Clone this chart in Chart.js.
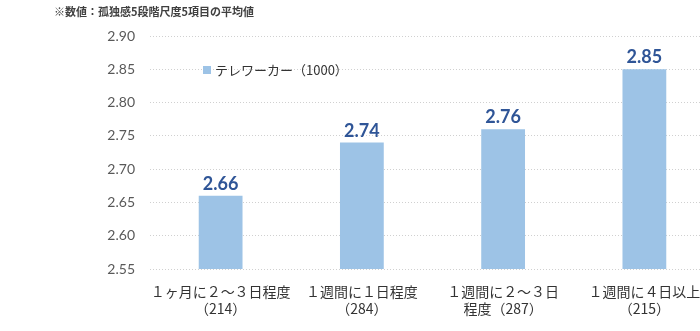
<!DOCTYPE html>
<html>
<head>
<meta charset="utf-8">
<script src="https://cdn.jsdelivr.net/npm/chart.js@4.4.1/dist/chart.umd.min.js"></script>
<style>
  html, body { margin: 0; padding: 0; background: #fff; overflow: hidden; }
  #wrap { width: 715px; height: 331px; position: relative; }
</style>
</head>
<body>
<div id="wrap"><canvas id="c"></canvas></div>
<script>
// Loneliness score (5-point scale, mean of 5 items) by telework frequency
const categories = [
  ['１ヶ月に２～３日程度', '（214）'],
  ['１週間に１日程度', '（284）'],
  ['１週間に２～３日', '程度（287）'],
  ['１週間に４日以上', '（215）']
];
const seriesName = 'テレワーカー（1000）';
const seriesValues = [2.66, 2.74, 2.76, 2.85];
const noteText = '※数値：孤独感5段階尺度5項目の平均値';
const yMin = 2.55, yMax = 2.90, yStep = 0.05;

const barColor = '#9DC3E6';
const labelColor = '#2F5597';
const tickFont = "'Lato', 'Noto Sans', sans-serif";
const jpFont = "'Noto Sans CJK JP', sans-serif";

const overlay = {
  id: 'overlay',
  afterDatasetsDraw(chart) {
    const ctx = chart.ctx;
    ctx.save();
    // value labels above bars
    const meta = chart.getDatasetMeta(0);
    ctx.fillStyle = labelColor;
    ctx.font = "bold 18px " + tickFont;
    ctx.textAlign = 'center';
    ctx.textBaseline = 'alphabetic';
    meta.data.forEach((bar, i) => {
      ctx.fillText(seriesValues[i].toFixed(2), bar.x, bar.y - 6);
    });
    // legend inside plot
    ctx.fillStyle = barColor;
    ctx.fillRect(203, 66, 8, 8);
    ctx.fillStyle = '#333';
    ctx.font = "13px " + jpFont;
    ctx.textAlign = 'left';
    ctx.textBaseline = 'middle';
    ctx.fillText(chart.data.datasets[0].label, 215, 70);
    // note at top-left
    ctx.fillStyle = '#404040';
    ctx.font = "bold 11px " + jpFont;
    ctx.fillText(noteText, 54, 12);
    ctx.restore();
  }
};

new Chart(document.getElementById('c'), {
  type: 'bar',
  data: {
    labels: categories,
    datasets: [{
      label: seriesName,
      data: seriesValues,
      backgroundColor: barColor,
      borderWidth: 0,
      barPercentage: 0.62,
      categoryPercentage: 0.5
    }]
  },
  options: {
    responsive: true,
    maintainAspectRatio: false,
    animation: false,
    layout: { padding: { top: 36, left: 0, right: 0, bottom: 0 } },
    plugins: {
      legend: { display: false },
      tooltip: { enabled: false }
    },
    scales: {
      x: {
        grid: { display: false, drawTicks: false },
        border: { display: false },
        ticks: {
          color: '#333',
          font: { family: jpFont, size: 14 },
          padding: 14,
          maxRotation: 0,
          autoSkip: false
        },
        afterFit(scale) { scale.height = 62; }
      },
      y: {
        min: yMin,
        max: yMax,
        grid: {
          color: '#D0D0D0',
          drawTicks: false,
          lineWidth: 1
        },
        border: { display: false, dash: [1, 2] },
        ticks: {
          stepSize: yStep,
          color: '#595959',
          font: { family: tickFont, size: 14 },
          padding: 15,
          callback: v => v.toFixed(2)
        },
        afterFit(scale) { scale.width = 150; }
      }
    }
  },
  plugins: [overlay]
});
</script>
</body>
</html>
